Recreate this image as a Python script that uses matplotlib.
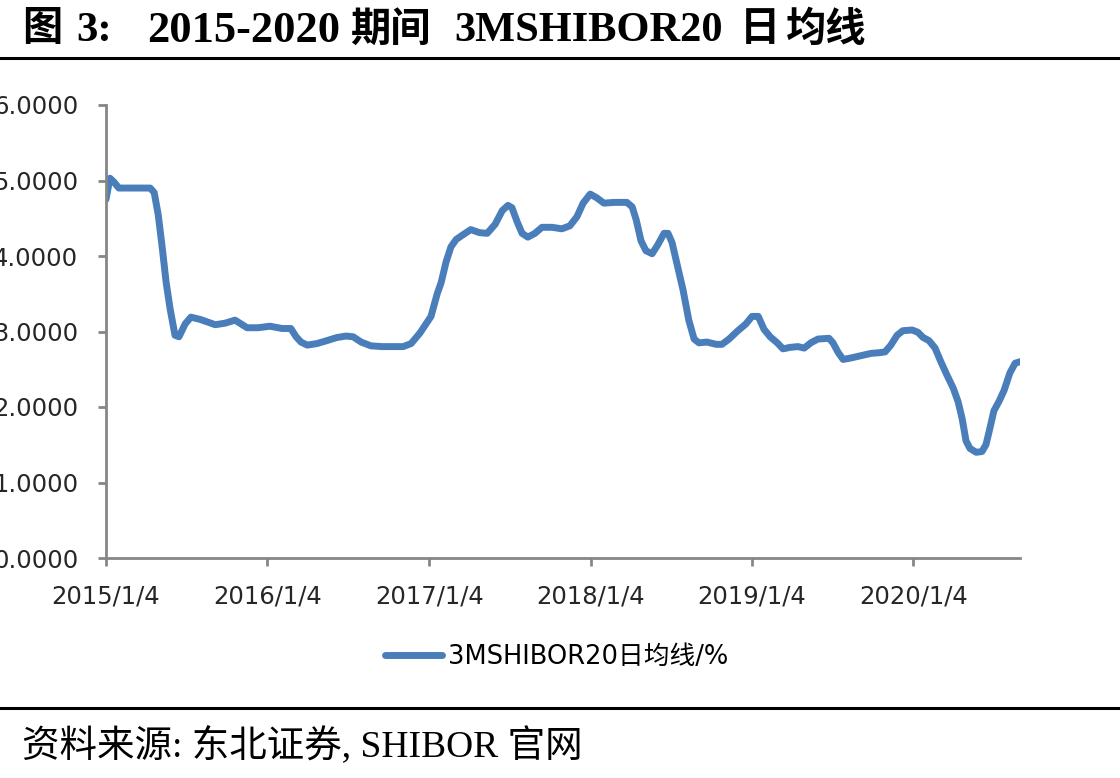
import pandas as pd
import numpy as np
import matplotlib.pyplot as plt
from matplotlib.lines import Line2D

# 3M SHIBOR 20-day moving average
dates = [
    "2015-01-04", "2015-01-13", "2015-01-22", "2015-02-02", "2015-04-14", "2015-04-23",
    "2015-05-02", "2015-05-11", "2015-05-20", "2015-05-29", "2015-06-09", "2015-06-18",
    "2015-07-02", "2015-07-15", "2015-08-05", "2015-09-08", "2015-09-30", "2015-10-23",
    "2015-11-19", "2015-12-14", "2016-01-10", "2016-02-06", "2016-02-26", "2016-03-09",
    "2016-03-20", "2016-04-03", "2016-04-25", "2016-05-18", "2016-06-09", "2016-06-30",
    "2016-07-16", "2016-08-03", "2016-08-25", "2016-09-19", "2016-11-06", "2016-11-24",
    "2016-12-14", "2017-01-08", "2017-01-22", "2017-01-31", "2017-02-11", "2017-02-22",
    "2017-03-06", "2017-03-21", "2017-04-08", "2017-04-27", "2017-05-15", "2017-06-02",
    "2017-06-18", "2017-07-01", "2017-07-10", "2017-07-22", "2017-08-02", "2017-08-15",
    "2017-08-31", "2017-09-16", "2017-10-09", "2017-10-31", "2017-11-18", "2017-12-04",
    "2017-12-18", "2018-01-03", "2018-01-18", "2018-02-03", "2018-02-26", "2018-03-27",
    "2018-04-08", "2018-04-17", "2018-04-28", "2018-05-09", "2018-05-23", "2018-06-05",
    "2018-06-19", "2018-06-28", "2018-07-07", "2018-07-18", "2018-08-01", "2018-08-14",
    "2018-08-26", "2018-09-06", "2018-09-24", "2018-10-15", "2018-10-28", "2018-11-13",
    "2018-12-01", "2018-12-21", "2019-01-04", "2019-01-18", "2019-01-31", "2019-02-14",
    "2019-03-02", "2019-03-15", "2019-03-31", "2019-04-18", "2019-05-02", "2019-05-17",
    "2019-06-02", "2019-06-27", "2019-07-06", "2019-07-18", "2019-07-29", "2019-08-16",
    "2019-09-07", "2019-09-30", "2019-10-20", "2019-11-01", "2019-11-14", "2019-11-28",
    "2019-12-11", "2020-01-01", "2020-01-14", "2020-01-26", "2020-02-08", "2020-02-22",
    "2020-03-06", "2020-03-20", "2020-04-03", "2020-04-14", "2020-04-23", "2020-05-02",
    "2020-05-11", "2020-05-25", "2020-06-07", "2020-06-16", "2020-06-25", "2020-07-04",
    "2020-07-16", "2020-07-27", "2020-08-09", "2020-08-21", "2020-09-01",
]
values = [
    4.75, 5.03, 4.98, 4.90, 4.90, 4.84,
    4.55, 4.12, 3.65, 3.30, 2.95, 2.93,
    3.10, 3.19, 3.16, 3.09, 3.11, 3.15,
    3.05, 3.05, 3.07, 3.04, 3.04, 2.93,
    2.86, 2.82, 2.84, 2.88, 2.92, 2.94,
    2.93, 2.86, 2.81, 2.80, 2.80, 2.84,
    2.98, 3.20, 3.50, 3.65, 3.92, 4.12,
    4.22, 4.28, 4.35, 4.31, 4.30, 4.42,
    4.60, 4.67, 4.64, 4.45, 4.30, 4.25,
    4.30, 4.38, 4.38, 4.36, 4.40, 4.52,
    4.70, 4.82, 4.77, 4.70, 4.71, 4.71,
    4.65, 4.48, 4.20, 4.07, 4.03, 4.15,
    4.30, 4.30, 4.18, 3.90, 3.55, 3.15,
    2.90, 2.85, 2.86, 2.83, 2.83, 2.90,
    3.00, 3.10, 3.20, 3.20, 3.03, 2.93,
    2.85, 2.77, 2.79, 2.80, 2.78, 2.85,
    2.90, 2.91, 2.85, 2.72, 2.63, 2.65,
    2.68, 2.71, 2.72, 2.73, 2.82, 2.95,
    3.01, 3.02, 2.99, 2.92, 2.88, 2.78,
    2.60, 2.42, 2.25, 2.07, 1.85, 1.55,
    1.45, 1.40, 1.41, 1.50, 1.72, 1.95,
    2.08, 2.22, 2.45, 2.58, 2.60,
]
tick_dates = ["2015-01-04", "2016-01-04", "2017-01-04", "2018-01-04", "2019-01-04", "2020-01-04"]
tick_labels = ["2015/1/4", "2016/1/4", "2017/1/4", "2018/1/4", "2019/1/4", "2020/1/4"]
y_ticks = [0, 1, 2, 3, 4, 5, 6]

# title pieces: (text, left pixel, fontsize)
title_parts = [
    ("图", 22, 29),
    ("3:", 76, 31),
    ("2015-2020", 147, 32),
    ("期间", 350, 29),
    ("3MSHIBOR20", 454, 30.5),
    ("日", 740, 29),
    ("均线", 786, 29),
]
legend_label = "3MSHIBOR20日均线/%"
source = "资料来源: 东北证券, SHIBOR 官网"

serif = ["Liberation Serif", "Noto Sans CJK SC"]
sans = ["DejaVu Sans", "Noto Sans CJK SC"]

x = pd.to_datetime(dates)

fig = plt.figure(figsize=(11.2, 7.78), dpi=100)
ax = fig.add_axes([106 / 1120, 1 - 558 / 778, (1020 - 106) / 1120, (558 - 105) / 778])

line, = ax.plot(x, values, color="#4a7ebb", linewidth=5, solid_capstyle="round",
                solid_joinstyle="round")

ax.set_ylim(0, 6)
ax.set_xlim(pd.Timestamp("2015-01-04"), pd.Timestamp("2020-09-01"))
ax.set_yticks(y_ticks)
ax.set_yticklabels(["%.4f" % v for v in y_ticks], family=sans, fontsize=17.5, color="#262626")
ax.set_xticks(pd.to_datetime(tick_dates))
ax.set_xticklabels(tick_labels, family=sans, fontsize=17.5, color="#262626")

for side in ["top", "right"]:
    ax.spines[side].set_visible(False)
for side in ["left", "bottom"]:
    ax.spines[side].set_color("#868686")
    ax.spines[side].set_linewidth(2)
ax.tick_params(axis="y", direction="out", length=6, width=2, color="#868686", pad=14)
ax.tick_params(axis="x", direction="out", length=6, width=2, color="#868686", pad=13)

# title and separators
for text, left, size in title_parts:
    fig.text(left / 1120, 1 - 31 / 778, text, family=serif, fontsize=size,
             fontweight="bold", ha="left", va="center")
fig.add_artist(Line2D([0, 1], [1 - 58 / 778] * 2, color="black", linewidth=2.2))
fig.add_artist(Line2D([0, 1], [1 - 708 / 778] * 2, color="black", linewidth=2.2))

fig.legend([line], [legend_label], loc="center", bbox_to_anchor=(0.497, 1 - 657 / 778),
           frameon=False, prop={"family": sans, "size": 18.5}, handlelength=2.2,
           handletextpad=0.25)

fig.text(22 / 1120, 1 - 745 / 778, source, family=serif, fontsize=27, ha="left", va="center")

fig.savefig("out.png", dpi=100)
